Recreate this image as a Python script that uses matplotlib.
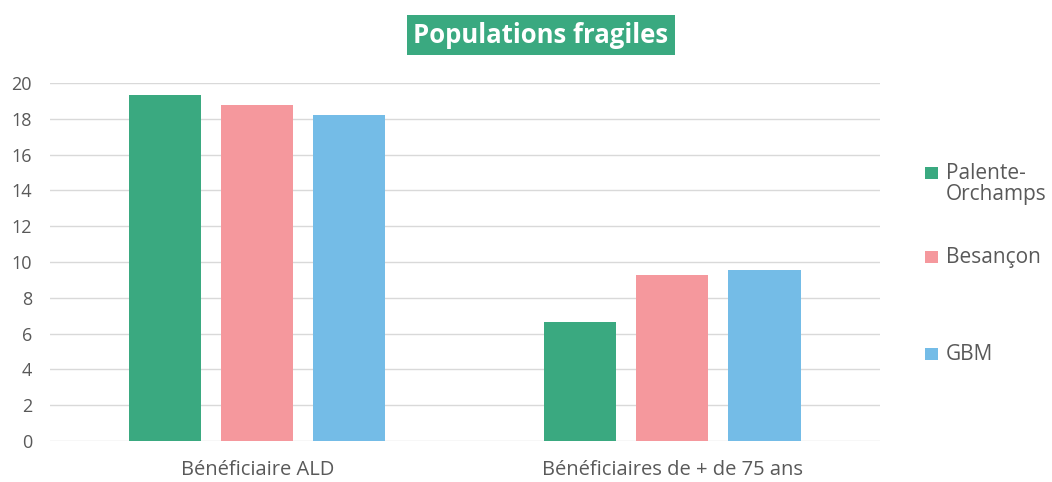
import numpy as np
import matplotlib.pyplot as plt
from matplotlib.patches import Rectangle

plt.rcParams['font.family'] = ['Open Sans', 'DejaVu Sans']

# Data
categories = ['Bénéficiaire ALD', 'Bénéficiaires de + de 75 ans']
series_names = ['Palente-\nOrchamps', 'Besançon', 'GBM']
palente = [19.3, 6.65]
besancon = [18.75, 9.3]
gbm = [18.2, 9.55]
colors = ['#3AA980', '#F5989D', '#74BCE7']
yticks = [0, 2, 4, 6, 8, 10, 12, 14, 16, 18, 20]

fig = plt.figure(figsize=(10.52, 4.82), dpi=100)
ax = fig.add_axes([0.0475, 0.085, 0.789, 0.743])

x = np.arange(len(categories))
width = 0.1735
step = 0.2217
for i, vals in enumerate([palente, besancon, gbm]):
    ax.bar(x + (i - 1) * step, vals, width, color=colors[i], zorder=3)

ax.set_xlim(-0.5, 1.5)
ax.set_ylim(0, 20)
ax.set_yticks(yticks)
ax.set_xticks(x)
ax.set_xticklabels(categories)
ax.grid(axis='y', color='#D9D9D9', linewidth=1, zorder=0)
for s in ax.spines.values():
    s.set_visible(False)
ax.tick_params(axis='both', length=0, colors='#595959')
ax.tick_params(axis='x', labelsize=14.5, pad=14)
ax.tick_params(axis='y', labelsize=13, pad=13)

# title in green box
fig.text(0.514, 0.927, 'Populations fragiles', ha='center', va='center',
         fontsize=18.5, fontweight='bold', color='white',
         bbox=dict(boxstyle='square,pad=0.25', facecolor='#3AA980', edgecolor='none'))

# legend (manual, to follow the reference spacing)
W, H = 1052, 482
leg_y = [173, 257, 354]
for name, c, yc in zip(series_names, colors, leg_y):
    fig.add_artist(Rectangle((925 / W, 1 - (yc + 6) / H), 13 / W, 12 / H,
                             transform=fig.transFigure, facecolor=c, edgecolor='none'))
    fig.text(946 / W, 1 - (yc - 10) / H, name, ha='left', va='top',
             fontsize=15, color='#595959', linespacing=1.0)

fig.savefig('out.png', dpi=100)
